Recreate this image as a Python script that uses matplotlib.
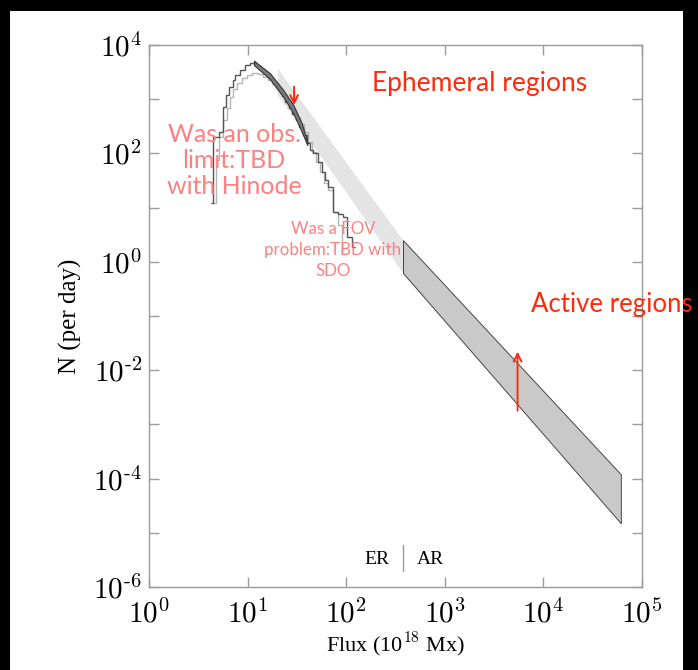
import matplotlib
matplotlib.use('Agg')
import matplotlib.pyplot as plt
import numpy as np

# --- data -------------------------------------------------------------------
# ephemeral-region histograms (flux bin edges in 1e18 Mx, N per day)
hist_dark_edges = [4.25, 4.49, 5.16, 5.59, 6.04, 6.52, 7.06, 7.45, 8.37, 9.41,
                   10.6, 11.6, 12.6, 13.7, 14.8, 16.1, 17.5, 19.0, 20.6, 22.3,
                   24.2, 26.3, 28.5, 31.0, 33.6, 36.5, 39.6, 42.9, 46.4, 52.1,
                   56.5, 61.0, 65.8, 74.0, 82.6, 92.1, 101, 114, 123]
hist_dark_counts = [12, 203, 251, 728, 1190, 1700, 2260, 2790, 3460, 4280,
                    4660, 4460, 4100, 3610, 3040, 2570, 2170, 1750, 1420, 1150,
                    888, 688, 533, 413, 307, 218, 155, 116, 102, 69,
                    45, 32, 24, 8.3, 7.6, 6.7, 2.9, 1.9]

hist_light_edges = [4.49, 4.78, 5.16, 5.59, 6.14, 6.63, 7.16, 7.75, 8.71, 9.79,
                    11.0, 12.7, 14.3, 16.1, 17.7, 19.4, 21.3, 23.4, 25.7, 28.2,
                    31.0, 34.0, 37.3, 41.0, 45.0, 49.4, 54.2, 59.6, 65.3, 74.0,
                    82.6, 90.6, 102]
hist_light_counts = [12, 75, 203, 413, 688, 1100, 1540, 1990, 2460, 2790,
                     3040, 2920, 2570, 2260, 1900, 1610, 1300, 1050, 815, 632,
                     470, 349, 248, 162, 106, 69, 45, 28, 21, 8.3,
                     4.8, 1.4]

# Hinode fit band (dark)
fit_flux = [11.6, 16.9, 23.0, 29.1, 35.4, 40.3]
fit_upper = [5130, 3000, 1480, 780, 360, 164]
fit_lower = [4280, 2330, 1110, 550, 251, 143]

# ephemeral-region power-law band (light)
er_flux = [20, 376]
er_upper = [3760, 2.5]
er_lower = [1200, 0.62]

# active-region power-law band
ar_flux = [377, 61000]
ar_upper = [2.5, 1.2e-4]
ar_lower = [0.62, 1.5e-5]

er_ar_split = 373

# red arrows (x, y_from, y_to)
arrow_down = (29.6, 1700, 780)
arrow_up = (5470, 1.8e-3, 0.022)

xticks = [1e0, 1e1, 1e2, 1e3, 1e4, 1e5]
yticks = [1e-6, 1e-4, 1e-2, 1e0, 1e2, 1e4]

# --- figure ---------------------------------------------------------------
plt.rcParams['mathtext.fontset'] = 'cm'
serif = ['Liberation Serif', 'DejaVu Serif']
sans = ['Lato', 'DejaVu Sans']
red = '#ff2a0a'
pink = '#ff8080'
gray = '#9a9a9a'

fig = plt.figure(figsize=(6.98, 6.70), dpi=100, facecolor='black')
fig.patches.append(plt.Rectangle((10 / 698, 0), 673 / 698, 659 / 670,
                                 transform=fig.transFigure, facecolor='white',
                                 edgecolor='none', zorder=-10))
ax = fig.add_axes([149 / 698, 83 / 670, 493 / 698, 542 / 670])
ax.set_zorder(1)
ax.set_xscale('log')
ax.set_yscale('log')
ax.set_xlim(1, 1e5)
ax.set_ylim(1e-6, 1e4)

ax.fill_between(er_flux, er_lower, er_upper, color='#e4e4e4', lw=0, zorder=1)
ax.stairs(hist_light_counts, hist_light_edges, baseline=None,
          color='#b4b4b4', lw=1.0, zorder=2)
ax.stairs(hist_dark_counts, hist_dark_edges, baseline=None,
          color='#555555', lw=1.0, zorder=3)
ax.fill_between(fit_flux, fit_lower, fit_upper, facecolor='#7a7a7a',
                edgecolor='#333333', lw=0.8, zorder=4)
ax.fill_between(ar_flux, ar_lower, ar_upper, facecolor='#c9c9c9',
                edgecolor='#444444', lw=0.7, zorder=4)

ax.axvline(er_ar_split, ymin=0.030, ymax=0.078, color=gray, lw=1.0)
ax.text(205, 3.2e-6, 'ER', family=serif, fontsize=14, ha='center', va='center')
ax.text(708, 3.2e-6, 'AR', family=serif, fontsize=14, ha='center', va='center')

for x, y0, y1 in (arrow_down, arrow_up):
    ax.annotate('', xy=(x, y1), xytext=(x, y0),
                arrowprops=dict(arrowstyle='->', color=red, lw=1.4,
                                mutation_scale=14, shrinkA=0, shrinkB=0),
                zorder=6)

ax.text(2275, 1990, 'Ephemeral regions', color=red, family=sans,
        fontsize=19, ha='center', va='center')
ax.text(49600, 0.16, 'Active regions', color=red, family=sans,
        fontsize=18.5, ha='center', va='center', clip_on=False, zorder=7)
ax.text(7.3, 75, 'Was an obs.\nlimit:TBD\nwith Hinode', color=pink,
        family=sans, fontsize=18, ha='center', va='center',
        linespacing=1.15, zorder=7)
ax.text(73.5, 1.65, 'Was a FOV\nproblem:TBD with\nSDO', color=pink,
        family=sans, fontsize=12.2, ha='center', va='center',
        linespacing=1.35, zorder=7)

def sup(v):
    e = int(round(np.log10(v)))
    if e < 0:
        return r'$10^{\text{-}%d}$' % -e
    return r'$10^{%d}$' % e

ax.set_xticks(xticks)
ax.set_xticklabels([sup(v) for v in xticks])
ax.set_yticks(10.0 ** np.arange(-6, 5))
ax.set_yticklabels([sup(v) if v in yticks else '' for v in 10.0 ** np.arange(-6, 5)])
ax.yaxis.set_minor_locator(matplotlib.ticker.NullLocator())
ax.xaxis.set_minor_locator(matplotlib.ticker.LogLocator(subs=np.arange(2, 10)))
ax.tick_params(which='both', direction='in', top=True, right=True,
               color=gray, labelsize=21)
ax.tick_params(axis='x', which='major', pad=9)
ax.tick_params(axis='y', which='major', pad=5)
ax.tick_params(which='major', length=7, width=1)
ax.tick_params(which='minor', length=3.5, width=0.8)
for s in ax.spines.values():
    s.set_color(gray)
    s.set_linewidth(1.0)

ax.set_xlabel(r'Flux (10$^{18}$ Mx)', family=serif, fontsize=16, labelpad=2)
ax.set_ylabel('N (per day)', family=serif, fontsize=18, labelpad=8)

fig.savefig('out.png', dpi=100, facecolor=fig.get_facecolor())
